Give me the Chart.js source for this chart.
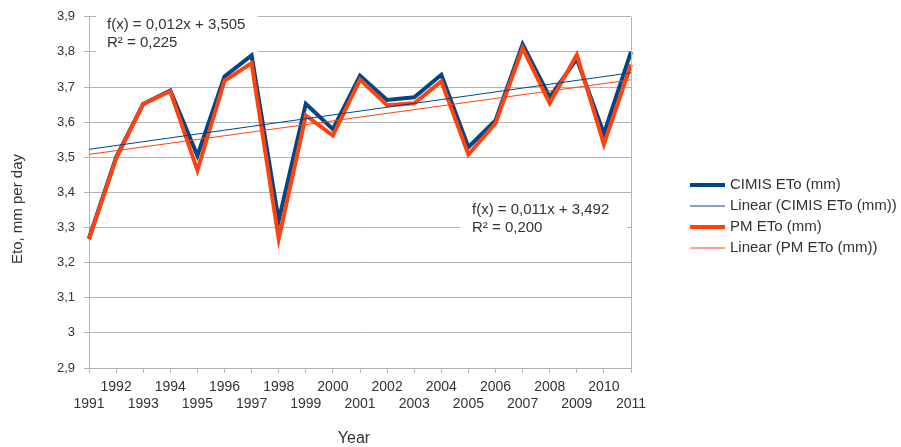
<!DOCTYPE html>
<html>
<head>
<meta charset="utf-8">
<script src="https://cdn.jsdelivr.net/npm/chart.js@4.4.0/dist/chart.umd.min.js"></script>
<style>
  html, body { margin: 0; padding: 0; background: #fff; }
  #wrap { width: 901px; height: 447px; position: relative; }
</style>
</head>
<body>
<div id="wrap"><canvas id="etoChart"></canvas></div>
<script>
// values
const years = ['1991','1992','1993','1994','1995','1996','1997','1998','1999','2000',
               '2001','2002','2003','2004','2005','2006','2007','2008','2009','2010','2011'];
const cimisEto = [3.27, 3.50, 3.652, 3.69, 3.505, 3.73, 3.79, 3.32, 3.652, 3.58,
                  3.732, 3.663, 3.671, 3.735, 3.529, 3.605, 3.822, 3.671, 3.78, 3.567, 3.80];
const pmEto = [3.266, 3.496, 3.652, 3.688, 3.463, 3.718, 3.768, 3.268, 3.619, 3.562,
               3.721, 3.648, 3.654, 3.716, 3.508, 3.597, 3.811, 3.654, 3.792, 3.537, 3.764];
const yMin = 2.9, yMax = 3.9, yStep = 0.1;
const cimisEq = ['f(x) = 0,012x + 3,505', 'R² = 0,225'];
const pmEq = ['f(x) = 0,011x + 3,492', 'R² = 0,200'];

const BLUE = '#004586';
const ORANGE = '#ff420e';
const GRID = '#b3b3b3';
const TEXT = '#333333';
const FONT = "'Liberation Sans', Arial, sans-serif";

// least squares trend, x = 1..n like the spreadsheet does
function trend(vals) {
    const n = vals.length;
    let sx = 0, sy = 0, sxy = 0, sxx = 0;
    vals.forEach((v, i) => { const x = i + 1; sx += x; sy += v; sxy += x * v; sxx += x * x; });
    const b = (n * sxy - sx * sy) / (n * sxx - sx * sx);
    const a = (sy - b * sx) / n;
    return vals.map((v, i) => a + b * (i + 1));
}

const legendItems = [
    { text: 'CIMIS ETo (mm)', color: BLUE, width: 4 },
    { text: 'Linear (CIMIS ETo (mm))', color: BLUE, width: 1 },
    { text: 'PM ETo (mm)', color: ORANGE, width: 4 },
    { text: 'Linear (PM ETo (mm))', color: ORANGE, width: 1 }
];

const decorPlugin = {
    id: 'decor',
    beforeDatasetsDraw(chart) {
        const ctx = chart.ctx;
        ctx.save();
        ctx.fillStyle = '#fff';
        ctx.fillRect(96, 8, 162, 47);
        ctx.fillRect(460, 197, 167, 47);
        ctx.restore();
    },
    afterDraw(chart) {
        const ctx = chart.ctx;
        const a = chart.chartArea;
        ctx.save();
        // right border of the plot
        ctx.strokeStyle = GRID;
        ctx.lineWidth = 1;
        ctx.beginPath();
        ctx.moveTo(Math.round(a.right) + 0.5, a.top);
        ctx.lineTo(Math.round(a.right) + 0.5, a.bottom);
        ctx.stroke();

        ctx.fillStyle = TEXT;
        ctx.font = '15px ' + FONT;
        ctx.textBaseline = 'middle';
        ctx.textAlign = 'left';
        ctx.fillText(cimisEq[0], 107, 25);
        ctx.fillText(cimisEq[1], 107, 43);
        ctx.fillText(pmEq[0], 472, 210);
        ctx.fillText(pmEq[1], 472, 228);

        // axis titles
        ctx.font = '16px ' + FONT;
        ctx.textAlign = 'center';
        ctx.fillText('Year', 354, 439);
        ctx.save();
        ctx.translate(18, 209);
        ctx.rotate(-Math.PI / 2);
        ctx.font = '15px ' + FONT;
        ctx.fillText('Eto, mm per day', 0, 0);
        ctx.restore();

        // legend
        ctx.font = '15px ' + FONT;
        ctx.textAlign = 'left';
        legendItems.forEach((it, i) => {
            const y = 185 + i * 21;
            ctx.strokeStyle = it.color;
            ctx.lineWidth = it.width;
            ctx.beginPath();
            ctx.moveTo(690, y);
            ctx.lineTo(725, y);
            ctx.stroke();
            ctx.fillStyle = TEXT;
            ctx.fillText(it.text, 730, y);
        });
        ctx.restore();
    }
};

const fmt = v => String(Number(v.toFixed(1))).replace('.', ',');

new Chart(document.getElementById('etoChart'), {
    type: 'line',
    data: {
        labels: years,
        datasets: [
            { label: 'CIMIS ETo (mm)', data: cimisEto, borderColor: BLUE, borderWidth: 4, order: 3 },
            { label: 'Linear (CIMIS ETo (mm))', data: trend(cimisEto), borderColor: BLUE, borderWidth: 1, order: 1 },
            { label: 'PM ETo (mm)', data: pmEto, borderColor: ORANGE, borderWidth: 4, order: 2 },
            { label: 'Linear (PM ETo (mm))', data: trend(pmEto), borderColor: ORANGE, borderWidth: 1, order: 0 }
        ]
    },
    options: {
        responsive: true,
        maintainAspectRatio: false,
        animation: false,
        elements: { point: { radius: 0 }, line: { tension: 0, fill: false } },
        layout: { padding: { top: 16, right: 270, left: 0, bottom: 0 } },
        plugins: { legend: { display: false }, tooltip: { enabled: false } },
        scales: {
            x: {
                offset: false,
                grid: { display: true, drawOnChartArea: false, drawTicks: true, tickLength: 5, color: GRID },
                border: { color: GRID },
                ticks: {
                    autoSkip: false, maxRotation: 0, padding: 6, color: TEXT,
                    font: { family: FONT, size: 14, lineHeight: 1.22 },
                    callback: (val, i) => (i % 2 === 0 ? ['', years[i]] : years[i])
                },
                afterFit: s => { s.height = 79; }
            },
            y: {
                min: yMin, max: yMax,
                grid: { color: GRID, tickLength: 5 },
                border: { color: GRID },
                ticks: {
                    stepSize: yStep, padding: 9, color: TEXT,
                    font: { family: FONT, size: 13 },
                    callback: v => fmt(v)
                },
                afterFit: s => { s.width = 89; }
            }
        }
    },
    plugins: [decorPlugin]
});
</script>
</body>
</html>
